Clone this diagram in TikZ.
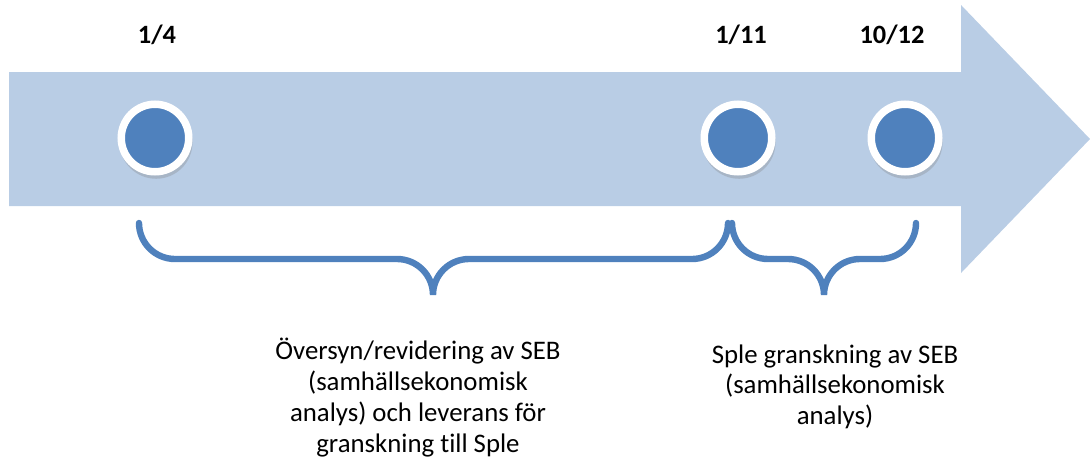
\documentclass[tikz,border=0pt]{standalone}
\usepackage{fontspec}
\setmainfont{Carlito}[Ligatures=NoCommon]
\usetikzlibrary{shadows}
\definecolor{arrowblue}{HTML}{B9CDE5}
\definecolor{dotblue}{HTML}{4F81BD}

\begin{document}
\begin{tikzpicture}[x=0.5pt, y=0.5pt,
    dot/.style = {circle, fill=dotblue, draw=white, line width=3.75pt, minimum size=33.75pt, inner sep=0pt,
        drop shadow={shadow xshift=0.5pt, shadow yshift=-2pt, shadow scale=1.08, opacity=0.3}},
    datelbl/.style = {font=\fontsize{13.2}{15}\selectfont\bfseries},
    curly/.style = {draw=dotblue, line width=3.2pt, line cap=round},
    txt/.style = {align=center, anchor=north, inner sep=0pt, font=\fontsize{13.4}{15.4}\selectfont}]

    \useasboundingbox (0,0) rectangle (1090,462);

    % Arrow
    \fill[arrowblue] (9,256) -- (961,256) -- (961,189) -- (1090,323) -- (961,457) -- (961,390) -- (9,390) -- cycle;

    % Nodes
    \node[dot] (1) at (155,324) {};
    \node[dot] (2) at (738,324) {};
    \node[dot] (3) at (905,324) {};

    \node[datelbl] (d1) at (157,427) {1/4};
    \node[datelbl] (d2) at (741,427) {1/11};
    \node[datelbl] (d3) at (892,427) {10/12};

    \node[txt] (t1) at (418,124) {Översyn/revidering av SEB\\(samhällsekonomisk\\analys) och leverans för\\granskning till Sple};
    \node[txt] (t2) at (835,118) {Sple granskning av SEB\\(samhällsekonomisk\\analys)};

    % Braces
    \draw[curly] (139,239) arc[start angle=180, end angle=270, radius=18pt] -- (397,203)
        arc[start angle=90, end angle=0, radius=18pt] arc[start angle=180, end angle=90, radius=18pt]
        -- (692,203) arc[start angle=270, end angle=360, radius=18pt];
    \draw[curly] (732,239) arc[start angle=180, end angle=270, radius=18pt] -- (788,203)
        arc[start angle=90, end angle=0, radius=18pt] arc[start angle=180, end angle=90, radius=18pt]
        -- (880,203) arc[start angle=270, end angle=360, radius=18pt];

\end{tikzpicture}
\end{document}
